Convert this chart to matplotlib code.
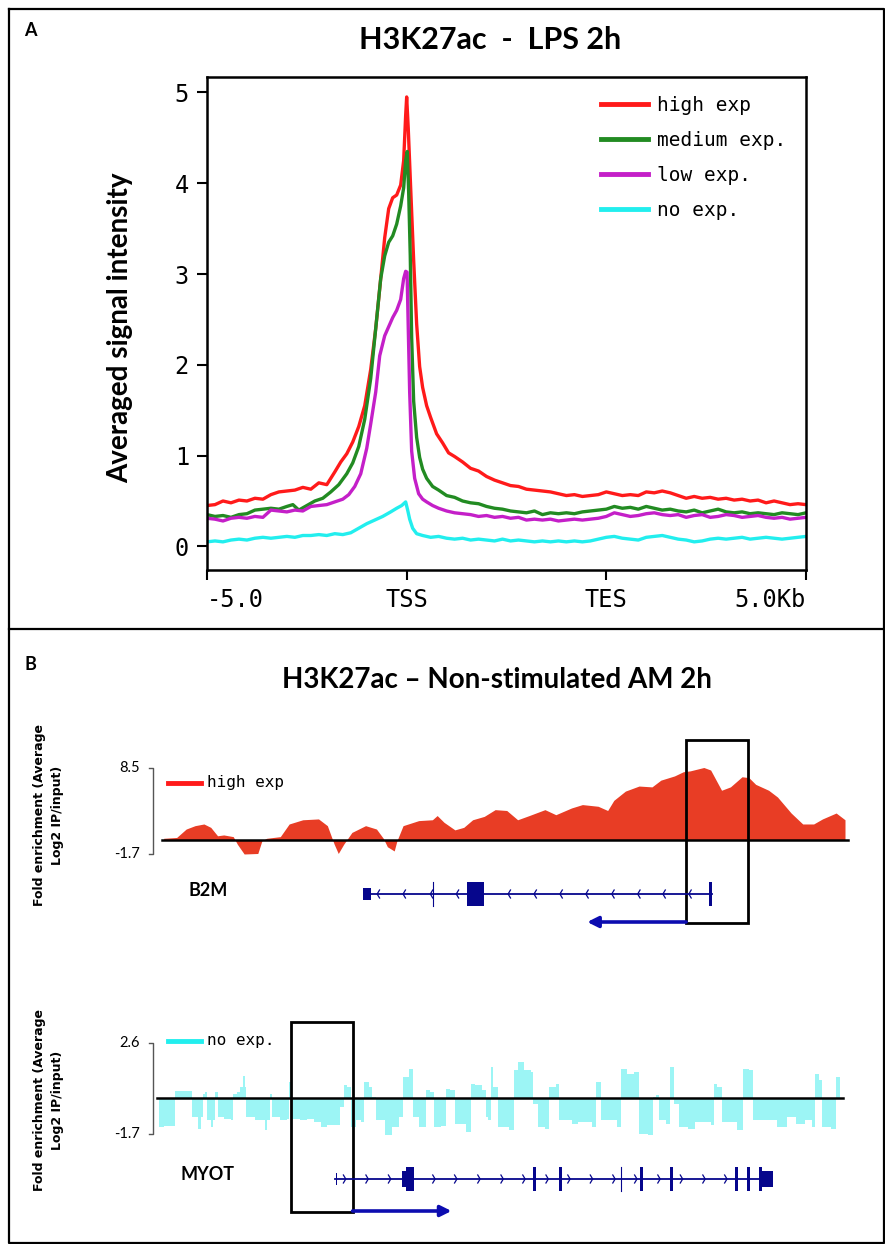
import matplotlib
matplotlib.use("Agg")
import matplotlib.pyplot as plt
import matplotlib.transforms as mtransforms
from matplotlib.lines import Line2D
from matplotlib.patches import Rectangle

# ---- panel A: averaged profiles (x: 0=-5kb, 1=TSS, 2=TES, 3=+5kb) ----
high_x = [0.00, 0.04, 0.08, 0.12, 0.16, 0.20, 0.24, 0.28, 0.32, 0.36, 0.40, 0.44, 0.48, 0.52, 0.56, 0.60,
          0.64, 0.67, 0.70, 0.73, 0.76, 0.79, 0.82, 0.845, 0.87, 0.89, 0.91, 0.93, 0.95, 0.97, 0.985, 0.995,
          1.000, 1.008, 1.02, 1.035, 1.05, 1.065, 1.08, 1.10, 1.12, 1.15, 1.18, 1.21, 1.24, 1.28, 1.32, 1.36,
          1.40, 1.44, 1.48, 1.52, 1.56, 1.60, 1.64, 1.68, 1.72, 1.76, 1.80, 1.84, 1.88, 1.92, 1.96, 2.00,
          2.04, 2.08, 2.12, 2.16, 2.20, 2.24, 2.28, 2.32, 2.36, 2.40, 2.44, 2.48, 2.52, 2.56, 2.60, 2.64,
          2.68, 2.72, 2.76, 2.80, 2.84, 2.88, 2.92, 2.96, 3.00]
high_y = [0.45, 0.46, 0.50, 0.48, 0.51, 0.50, 0.53, 0.52, 0.57, 0.60, 0.61, 0.62, 0.65, 0.63, 0.70, 0.68,
          0.82, 0.93, 1.02, 1.15, 1.32, 1.55, 1.95, 2.40, 2.95, 3.40, 3.72, 3.84, 3.87, 3.98, 4.25, 4.75,
          4.95, 4.60, 3.95, 3.15, 2.45, 1.98, 1.75, 1.55, 1.42, 1.24, 1.14, 1.03, 0.99, 0.93, 0.86, 0.83,
          0.77, 0.73, 0.70, 0.67, 0.66, 0.63, 0.62, 0.61, 0.60, 0.58, 0.56, 0.57, 0.55, 0.56, 0.57, 0.60,
          0.58, 0.56, 0.57, 0.56, 0.60, 0.59, 0.61, 0.59, 0.56, 0.53, 0.55, 0.53, 0.54, 0.52, 0.53, 0.51,
          0.52, 0.50, 0.51, 0.48, 0.50, 0.48, 0.46, 0.47, 0.46]

medium_x = [0.00, 0.04, 0.08, 0.12, 0.16, 0.20, 0.24, 0.28, 0.32, 0.36, 0.40, 0.43, 0.46, 0.50, 0.54, 0.58,
            0.62, 0.66, 0.70, 0.73, 0.76, 0.79, 0.82, 0.845, 0.87, 0.89, 0.91, 0.93, 0.95, 0.97, 0.985, 0.995,
            1.003, 1.010, 1.018, 1.025, 1.035, 1.05, 1.065, 1.08, 1.10, 1.13, 1.16, 1.20, 1.24, 1.28, 1.32,
            1.36, 1.40, 1.44, 1.48, 1.52, 1.56, 1.60, 1.64, 1.68, 1.72, 1.76, 1.80, 1.84, 1.88, 1.92, 1.96,
            2.00, 2.04, 2.08, 2.12, 2.16, 2.20, 2.24, 2.28, 2.32, 2.36, 2.40, 2.44, 2.48, 2.52, 2.56, 2.60,
            2.64, 2.68, 2.72, 2.76, 2.80, 2.84, 2.88, 2.92, 2.96, 3.00]
medium_y = [0.35, 0.33, 0.34, 0.32, 0.35, 0.36, 0.40, 0.41, 0.42, 0.41, 0.44, 0.46, 0.40, 0.45, 0.50, 0.53,
            0.60, 0.68, 0.80, 0.92, 1.10, 1.40, 1.85, 2.40, 2.95, 3.20, 3.35, 3.42, 3.55, 3.75, 3.95, 4.25,
            4.35, 3.90, 3.20, 2.30, 1.60, 1.20, 0.98, 0.85, 0.75, 0.66, 0.62, 0.56, 0.54, 0.50, 0.48,
            0.47, 0.44, 0.42, 0.41, 0.39, 0.38, 0.37, 0.39, 0.35, 0.37, 0.36, 0.37, 0.36, 0.38, 0.39, 0.40,
            0.41, 0.44, 0.42, 0.43, 0.41, 0.44, 0.42, 0.40, 0.41, 0.39, 0.38, 0.40, 0.37, 0.39, 0.41, 0.38,
            0.37, 0.38, 0.36, 0.37, 0.36, 0.35, 0.37, 0.36, 0.35, 0.37]

low_x = [0.00, 0.04, 0.08, 0.12, 0.16, 0.20, 0.24, 0.28, 0.32, 0.36, 0.40, 0.44, 0.48, 0.52, 0.56, 0.60,
         0.64, 0.68, 0.71, 0.74, 0.77, 0.80, 0.82, 0.845, 0.865, 0.89, 0.91, 0.93, 0.95, 0.97, 0.985, 0.995,
         1.002, 1.008, 1.015, 1.025, 1.04, 1.06, 1.08, 1.10, 1.13, 1.16, 1.20, 1.24, 1.28, 1.32, 1.36,
         1.40, 1.44, 1.48, 1.52, 1.56, 1.60, 1.64, 1.68, 1.72, 1.76, 1.80, 1.84, 1.88, 1.92, 1.96,
         2.00, 2.04, 2.08, 2.12, 2.16, 2.20, 2.24, 2.28, 2.32, 2.36, 2.40, 2.44, 2.48, 2.52, 2.56, 2.60,
         2.64, 2.68, 2.72, 2.76, 2.80, 2.84, 2.88, 2.92, 2.96, 3.00]
low_y = [0.31, 0.30, 0.28, 0.31, 0.32, 0.31, 0.33, 0.32, 0.40, 0.39, 0.38, 0.40, 0.39, 0.44, 0.45, 0.46,
         0.49, 0.52, 0.57, 0.66, 0.80, 1.08, 1.35, 1.70, 2.10, 2.32, 2.42, 2.52, 2.60, 2.72, 2.95, 3.03,
         3.02, 2.40, 1.70, 1.05, 0.75, 0.58, 0.52, 0.49, 0.45, 0.42, 0.39, 0.37, 0.36, 0.35, 0.33,
         0.34, 0.32, 0.33, 0.31, 0.32, 0.29, 0.30, 0.29, 0.30, 0.28, 0.29, 0.30, 0.29, 0.30, 0.31,
         0.33, 0.37, 0.35, 0.33, 0.34, 0.36, 0.37, 0.35, 0.34, 0.35, 0.32, 0.34, 0.35, 0.32, 0.33, 0.35,
         0.34, 0.32, 0.33, 0.34, 0.32, 0.31, 0.32, 0.30, 0.31, 0.32]

no_x = [0.00, 0.04, 0.08, 0.12, 0.16, 0.20, 0.24, 0.28, 0.32, 0.36, 0.40, 0.44, 0.48, 0.52, 0.56, 0.60,
        0.64, 0.68, 0.72, 0.76, 0.80, 0.84, 0.88, 0.92, 0.95, 0.975, 0.995, 1.005, 1.015, 1.03, 1.05, 1.08,
        1.12, 1.16, 1.20, 1.24, 1.28, 1.32, 1.36, 1.40, 1.44, 1.48, 1.52, 1.56, 1.60, 1.64, 1.68, 1.72,
        1.76, 1.80, 1.84, 1.88, 1.92, 1.96, 2.00, 2.04, 2.08, 2.12, 2.16, 2.20, 2.24, 2.28, 2.32, 2.36,
        2.40, 2.44, 2.48, 2.52, 2.56, 2.60, 2.64, 2.68, 2.72, 2.76, 2.80, 2.84, 2.88, 2.92, 2.96, 3.00]
no_y = [0.05, 0.06, 0.05, 0.07, 0.08, 0.07, 0.09, 0.10, 0.09, 0.10, 0.11, 0.10, 0.12, 0.12, 0.13, 0.12,
        0.14, 0.13, 0.15, 0.20, 0.25, 0.29, 0.33, 0.38, 0.42, 0.45, 0.49, 0.40, 0.30, 0.20, 0.14, 0.12,
        0.10, 0.11, 0.09, 0.08, 0.09, 0.07, 0.08, 0.07, 0.06, 0.08, 0.06, 0.07, 0.06, 0.05, 0.06, 0.05,
        0.06, 0.05, 0.06, 0.05, 0.06, 0.08, 0.10, 0.11, 0.09, 0.08, 0.07, 0.10, 0.11, 0.12, 0.10, 0.08,
        0.07, 0.05, 0.06, 0.08, 0.09, 0.08, 0.09, 0.10, 0.08, 0.09, 0.10, 0.09, 0.08, 0.09, 0.10, 0.11]

profile_labels = ["high exp", "medium exp.", "low exp.", "no exp."]
profile_colors = ["#ff1a1a", "#228b22", "#c41fc8", "#22eeee"]
x_ticklabels = ["-5.0", "TSS", "TES", "5.0Kb"]

# ---- panel B: browser tracks (x = relative position in locus, 0-100) ----
b2m_pos = [0.1, 2.0, 3.4, 4.7, 6.0, 7.0, 8.0, 8.9, 10.3, 10.9, 11.9, 13.9, 14.5, 15.2, 17.2, 18.5, 20.5,
           22.8, 24.1, 25.1, 25.7, 26.5, 27.7, 29.7, 31.3, 32.3, 32.9, 33.9, 34.3, 35.2, 37.5, 39.5, 40.2,
           41.2, 42.8, 44.1, 45.4, 47.1, 48.7, 50.4, 52.0, 53.7, 56.0, 57.6, 59.9, 61.5, 63.8, 65.2, 66.1,
           67.8, 69.8, 71.7, 73.0, 75.0, 76.3, 77.3, 79.3, 80.3, 81.9, 83.2, 84.9, 85.9, 86.9, 88.8, 90.1,
           92.1, 93.8, 95.4, 96.7, 98.7, 100.0]
b2m_val = [0.2, 0.3, 1.3, 1.7, 1.9, 1.5, 0.5, 0.6, 0.4, -0.5, -1.66, -1.6, -0.1, 0.2, 0.4, 1.9, 2.4,
           2.5, 1.7, -0.5, -1.6, -0.5, 0.9, 1.7, 1.3, 0.2, -0.8, -1.3, -0.1, 1.7, 2.3, 2.4, 2.9,
           2.1, 1.2, 1.5, 2.4, 2.8, 3.6, 3.5, 2.4, 2.9, 3.6, 3.0, 3.8, 4.2, 4.0, 3.5, 4.7,
           5.8, 6.4, 6.3, 7.1, 7.6, 8.1, 8.2, 8.6, 8.3, 5.9, 6.3, 7.5, 7.4, 6.6, 5.9, 5.1,
           3.2, 1.9, 1.9, 2.5, 3.2, 2.4]

myot_pos = [-0.6, 0.1, 1.4, 1.7, 4.0, 4.3, 5.2, 5.5, 5.9, 6.1, 6.5, 7.0, 7.3, 7.6, 8.0, 9.0, 9.9, 10.3,
            10.9, 11.3, 11.7, 12.0, 12.2, 13.5, 14.9, 15.3, 15.7, 16.0, 17.2, 18.2, 18.5, 18.8, 20.1, 21.1,
            22.1, 23.1, 24.1, 25.4, 26.0, 26.5, 27.0, 27.5, 28.3, 29.0, 29.5, 30.2, 30.6, 31.3, 32.6, 33.6,
            34.6, 35.2, 36.1, 36.6, 37.5, 38.5, 39.2, 39.7, 40.8, 41.5, 42.1, 42.8, 44.5, 45.1, 45.8, 46.8,
            47.3, 47.7, 48.1, 48.4, 49.1, 50.7, 51.5, 52.1, 53.0, 53.9, 54.3, 55.0, 56.0, 56.6, 57.6, 58.1,
            59.9, 60.9, 62.9, 63.5, 64.2, 66.5, 67.1, 68.1, 69.1, 69.8, 71.1, 71.9, 72.3, 72.7, 73.7, 74.4,
            74.9, 75.7, 77.0, 78.0, 80.3, 80.8, 81.3, 81.9, 84.2, 85.0, 85.9, 86.5, 90.1, 91.5, 92.8, 94.1,
            95.1, 95.6, 96.2, 96.7, 98.0, 98.7, 99.2]
myot_val = [-1.37, -1.34, -1.34, 0.31, 0.31, -0.90, -1.45, -0.90, 0.20, 0.28, -1.05, -1.37, -1.05, 0.28,
            -0.90, -0.97, -1.05, 0.20, 0.28, 0.52, 1.02, 0.52, -0.90, -1.05, -1.53, -1.05, 0.20, -0.90,
            -1.05, -0.97, 0.75, -0.97, -1.05, -0.97, -1.13, -1.37, -1.29, -1.29, -0.42, 0.60, 0.52, -1.37,
            -1.05, -1.13, 0.75, 0.52, 0.05, -1.05, -1.76, -1.37, -0.90, 0.99, 1.38, -0.90, -1.37, 0.36,
            0.28, -1.37, -1.34, 0.44, 0.36, -1.21, -1.60, 0.68, 0.60, 0.36, -0.90, -1.05, 1.46, 0.52,
            -1.37, -1.53, 1.31, 1.70, 1.31, 1.23, -0.27, -1.37, -1.45, 0.52, 0.68, -1.05, -1.21, -1.13,
            -1.37, 0.75, -1.05, -1.37, 1.38, 1.15, 1.23, -1.68, -1.76, 0.05, 0.13, -1.05, -1.21, 1.46,
            -0.27, -1.37, -1.45, -1.13, -1.29, 0.68, 0.52, -1.13, -1.53, 1.38, 1.31, -1.05, -1.37, -0.90,
            -1.21, -1.05, -1.37, 1.15, 0.83, -1.37, -1.45, 0.99, 1.23]

# gene models: (start, end, kind) ; kind "cds" tall, "utr" short, "line" thin vertical
b2m_span = (29.5, 80.5)
b2m_exons = [(29.3, 30.5, "utr"), (44.6, 47.1, "cds"), (39.6, 39.6, "line"), (80.0, 80.5, "cds")]
b2m_chevrons = [31.4, 35.2, 39.2, 43.0, 50.6, 54.4, 58.2, 62.0, 65.8, 69.6, 73.3, 77.1]
b2m_strand = -1
b2m_box = (76.7, 85.8)

myot_span = (25.2, 88.0)
myot_exons = [(25.3, 25.5, "utr"), (35.0, 35.6, "mid"), (35.6, 36.8, "cds"), (54.3, 54.7, "cds"),
              (58.1, 58.5, "cds"), (67.1, 67.1, "line"), (70.0, 70.4, "cds"), (74.4, 74.8, "cds"),
              (83.9, 84.3, "cds"), (85.6, 86.0, "cds"), (87.4, 87.8, "cds"), (87.8, 89.4, "mid")]
myot_chevrons = [26.8, 30.1, 33.4, 39.9, 43.1, 46.5, 49.9, 53.1, 56.5, 59.7, 63.0, 66.3, 69.5, 72.9,
                 76.2, 79.5, 82.7]
myot_strand = 1
myot_box = (18.8, 27.8)

W, H = 885, 1244
fig = plt.figure(figsize=(W / 100, H / 100), dpi=100)


def px_box(x0, y0, x1, y1):
    return [x0 / W, 1 - y1 / H, (x1 - x0) / W, (y1 - y0) / H]


def fline(xs, ys, **kw):
    fig.add_artist(Line2D([x / W for x in xs], [1 - y / H for y in ys],
                          transform=fig.transFigure, **kw))


TITLE_FONT = ["Lato", "DejaVu Sans"]
MONO = "DejaVu Sans Mono"

# frame
fline([9, 884, 884, 9, 9], [9, 9, 1243, 1243, 9], color="black", lw=1.6)
fline([9, 884], [629, 629], color="black", lw=1.6)

fig.text(24 / W, 1 - 31 / H, "A", fontsize=13, fontweight="bold", va="center", family=TITLE_FONT)
fig.text(490 / W, 1 - 40 / H, "H3K27ac  -  LPS 2h", fontsize=22, fontweight="bold",
         ha="center", va="center", family=TITLE_FONT)
fig.text(120 / W, 1 - 328 / H, "Averaged signal intensity", fontsize=20, fontweight="bold",
         rotation=90, ha="center", va="center", family=TITLE_FONT)

ax = fig.add_axes(px_box(207, 77, 806, 570))
for xs, ys, lab, col in zip([high_x, medium_x, low_x, no_x], [high_y, medium_y, low_y, no_y],
                            profile_labels, profile_colors):
    ax.plot(xs, ys, color=col, lw=2.4, label=lab)
ax.set_xlim(0, 3)
ax.set_ylim(-0.26, 5.17)
ax.set_yticks(range(6))
ax.set_xticks(range(4))
ax.set_xticklabels(x_ticklabels)
lbls = ax.get_xticklabels()
lbls[0].set_ha("left")
lbls[-1].set_ha("right")
ax.tick_params(direction="out", length=7, width=1.5, labelsize=17, pad=6)
for t in ax.get_xticklabels() + ax.get_yticklabels():
    t.set_family(MONO)
for s in ax.spines.values():
    s.set_linewidth(1.8)
ax.legend(loc="upper left", bbox_to_anchor=(601 / W, 1 - 96 / H), bbox_transform=fig.transFigure,
          frameon=False, prop={"family": MONO, "size": 14}, handlelength=2.4, handletextpad=0.5,
          labelspacing=0.82, borderpad=0, borderaxespad=0)
for lh in ax.get_legend().get_lines():
    lh.set_linewidth(3.5)

# panel B
fig.text(24 / W, 1 - 665 / H, "B", fontsize=13, fontweight="bold", va="center", family=TITLE_FONT)
fig.text(497 / W, 1 - 680 / H, "H3K27ac \u2013 Non-stimulated AM 2h", fontsize=20, fontweight="bold",
         ha="center", va="center", family=TITLE_FONT)

GENE_C = "#06068c"
ARROW_C = "#0c0cb0"
HALF_PX = {"cds": 12, "mid": 8, "utr": 6, "line": 12}


def locus(top_px, pos, val, ybase_px, ppu, scale, legend_lab, fill_col, leg_col, steps,
          name, span, exons, chevrons, strand, boxx, gene_px, arrow_px, box_px, leg_px):
    a = fig.add_axes(px_box(150, top_px, 850, top_px + 200))
    bot_px = top_px + 200
    a.set_xlim((150 - 163) / 6.82, (850 - 163) / 6.82)
    a.set_ylim((ybase_px - bot_px) / ppu, (ybase_px - top_px) / ppu)
    a.axis("off")
    tr = mtransforms.blended_transform_factory(a.transData, a.transAxes)

    def fy(p):
        return (bot_px - p) / 200.0

    if steps:
        a.fill_between(pos, val, 0, step="post", color=fill_col, lw=0)
    else:
        a.fill_between(pos, val, 0, color=fill_col, lw=0)
    a.plot([pos[0] - 0.3, pos[-1] + 0.5], [0, 0], color="black", lw=1.8)
    # scale bracket
    lo, hi = scale
    bx = (153 - 163) / 6.82
    tk = (149 - 163) / 6.82
    a.plot([tk, bx, bx, tk], [hi, hi, lo, lo], color="#555555", lw=1.0, clip_on=False)
    a.text((140 - 163) / 6.82, hi, f"{hi:g}", ha="right", va="center", fontsize=10.5,
           family=TITLE_FONT, clip_on=False)
    a.text((140 - 163) / 6.82, lo, f"{lo:g}", ha="right", va="center", fontsize=10.5,
           family=TITLE_FONT, clip_on=False)
    # track legend
    ly = fy(leg_px)
    a.plot([(168 - 163) / 6.82, (201 - 163) / 6.82], [ly, ly], transform=tr, color=leg_col, lw=3.5)
    a.text((207 - 163) / 6.82, ly, legend_lab, transform=tr, va="center", fontsize=11.5, family=MONO)
    # gene model
    gy = fy(gene_px)
    a.text((208 - 163) / 6.82, gy + 0.02, name, transform=tr, ha="center", va="center",
           fontsize=13, fontweight="bold", family=TITLE_FONT)
    a.plot(span, [gy, gy], transform=tr, color=GENE_C, lw=1.3)
    for s0, s1, kind in exons:
        h = HALF_PX[kind] / 200.0
        if kind == "line":
            a.plot([s0, s0], [gy - h, gy + h], transform=tr, color=GENE_C, lw=0.8)
        else:
            a.add_patch(Rectangle((s0, gy - h), s1 - s0, 2 * h, transform=tr, color=GENE_C, lw=0))
    for c in chevrons:
        dx = 0.35 * strand
        a.plot([c - dx, c, c - dx], [gy + 0.02, gy, gy - 0.02], transform=tr, color=GENE_C, lw=0.9)
    ay = fy(arrow_px)
    start = boxx[0] if strand < 0 else boxx[1]
    a.annotate("", xy=(start + strand * 14.5, ay), xytext=(start, ay), xycoords=tr,
               arrowprops=dict(arrowstyle="-|>", color=ARROW_C, lw=2.6, mutation_scale=16,
                               shrinkA=0, shrinkB=0))
    a.add_patch(Rectangle((boxx[0], fy(box_px[1])), boxx[1] - boxx[0], fy(box_px[0]) - fy(box_px[1]),
                          transform=tr, fill=False, ec="black", lw=2.0, clip_on=False))
    return a


locus(730, b2m_pos, b2m_val, 840, 8.43, (-1.7, 8.5), "high exp", "#e83d25", "#ff1a1a", False,
      "B2M", b2m_span, b2m_exons, b2m_chevrons, b2m_strand, b2m_box, 894, 922, (740, 923), 783)
locus(1020, myot_pos, myot_val, 1098, 21.2, (-1.7, 2.6), "no exp.", "#9cf5f5", "#22eeee", True,
      "MYOT", myot_span, myot_exons, myot_chevrons, myot_strand, myot_box, 1179, 1211, (1022, 1212), 1041)

ylab = "Fold enrichment (Average\nLog2 IP/input)"
for cy in (815, 1100):
    fig.text(49 / W, 1 - cy / H, ylab, rotation=90, ha="center", va="center", ma="center",
             fontsize=9, fontweight="bold", linespacing=1.5)

fig.savefig("out.png", dpi=100)
